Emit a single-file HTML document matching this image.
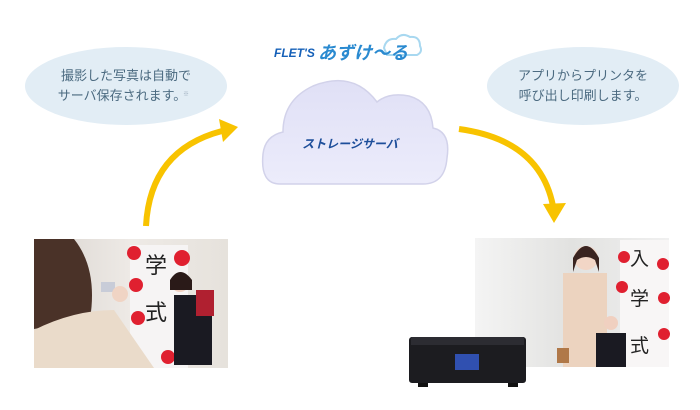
<!DOCTYPE html>
<html><head><meta charset="utf-8"><style>
html,body{margin:0;padding:0;background:#fff;width:700px;height:410px;overflow:hidden}
svg{display:block}
text{font-family:"Liberation Sans","Noto Sans CJK JP",sans-serif}
</style></head><body>
<svg width="700" height="410" viewBox="0 0 700 410" xmlns="http://www.w3.org/2000/svg">
<defs>
<linearGradient id="bgL" x1="0" y1="0" x2="1" y2="0"><stop offset="0" stop-color="#d9d4cf"/><stop offset="0.5" stop-color="#eeeae6"/><stop offset="1" stop-color="#e6e2dc"/></linearGradient>
<linearGradient id="bgR" x1="0" y1="0" x2="1" y2="0"><stop offset="0" stop-color="#f4f4f4"/><stop offset="0.5" stop-color="#e2e2e0"/><stop offset="1" stop-color="#f0f0f0"/></linearGradient>
<linearGradient id="cl" x1="0" y1="0" x2="0" y2="1"><stop offset="0" stop-color="#e0e0f6"/><stop offset="1" stop-color="#ececfb"/></linearGradient>
</defs>
<ellipse cx="126" cy="86" rx="101" ry="39" fill="#e2edf5"/>
<text x="126" y="80" font-size="13" fill="#4b6a80" text-anchor="middle">撮影した写真は自動で</text>
<text x="122" y="100" font-size="13" fill="#4b6a80" text-anchor="middle">サーバ保存されます。</text>
<text x="183" y="96" font-size="6" fill="#9ab">※</text>
<ellipse cx="583" cy="86" rx="96" ry="39" fill="#e2edf5"/>
<text x="583" y="80" font-size="13" fill="#4b6a80" text-anchor="middle">アプリからプリンタを</text>
<text x="583" y="100" font-size="13" fill="#4b6a80" text-anchor="middle">呼び出し印刷します。</text>
<path d="M384 48 q2-10 12-9 q6-7 14-2 q10-1 10 9 q3 6-3 9 l-30 0z" fill="none" stroke="#a8d8f0" stroke-width="2"/>
<text x="274" y="57" font-size="12" font-weight="bold" font-style="italic" fill="#1560b8">FLET'S</text>
<text x="318" y="59" font-size="18" font-weight="bold" font-style="italic" fill="#2a8ad0">あずけ〜る</text>
<path d="M280 184 q-20 0-17-30 q2-18 20-22 q0-32 30-46 q40-16 64 16 q12-10 32-6 q22 6 24 32 q18 4 14 30 q-2 26-24 26 z" fill="url(#cl)" stroke="#d2d2ea" stroke-width="1.5"/>
<text x="350" y="148" font-size="12" font-weight="bold" font-style="italic" fill="#1d4e9a" text-anchor="middle">ストレージサーバ</text>
<path d="M146 226 Q150 150 222 131" fill="none" stroke="#f8c300" stroke-width="6"/>
<polygon points="238,127 219,119 223,142" fill="#f8c300"/>
<path d="M459 129 Q540 140 553 206" fill="none" stroke="#f8c300" stroke-width="6"/>
<polygon points="554,223 543,204 566,203" fill="#f8c300"/>
<rect x="34" y="239" width="194" height="129" fill="url(#bgL)"/>
<rect x="130" y="245" width="58" height="123" fill="#f6f4f4"/>
<circle cx="134" cy="253" r="7" fill="#e02030"/><circle cx="136" cy="285" r="7" fill="#e02030"/><circle cx="138" cy="318" r="7" fill="#e02030"/><circle cx="182" cy="258" r="8" fill="#e02030"/><circle cx="168" cy="357" r="7" fill="#e02030"/>
<text x="145" y="273" font-size="22" font-family="Noto Serif CJK SC,serif" fill="#222">学</text>
<text x="145" y="320" font-size="22" font-family="Noto Serif CJK SC,serif" fill="#222">式</text>
<rect x="174" y="295" width="38" height="70" fill="#1a1a22"/>
<circle cx="180" cy="283" r="9" fill="#f0d0c0"/><path d="M170 280 q10-16 22 0 l0 10 l-22 0z" fill="#2a1a18"/>
<rect x="196" y="290" width="18" height="26" fill="#b02030"/>
<path d="M34 239 h40 q24 30 16 80 l-56 10z" fill="#4a3228"/>
<path d="M34 330 q40-20 80-20 l40 58 h-120z" fill="#eadbca"/>
<rect x="101" y="282" width="14" height="10" fill="#c8ccd8"/>
<circle cx="120" cy="294" r="8" fill="#f0d4c4"/>
<rect x="475" y="238" width="194" height="129" fill="url(#bgR)"/>
<rect x="620" y="240" width="49" height="127" fill="#f8f6f6"/>
<circle cx="624" cy="257" r="6" fill="#e02030"/><circle cx="663" cy="264" r="6" fill="#e02030"/><circle cx="622" cy="287" r="6" fill="#e02030"/><circle cx="664" cy="298" r="6" fill="#e02030"/><circle cx="664" cy="334" r="6" fill="#e02030"/>
<text x="630" y="265" font-size="19" font-family="Noto Serif CJK SC,serif" fill="#222">入</text>
<text x="630" y="305" font-size="19" font-family="Noto Serif CJK SC,serif" fill="#222">学</text>
<text x="630" y="352" font-size="19" font-family="Noto Serif CJK SC,serif" fill="#222">式</text>
<rect x="563" y="273" width="44" height="94" fill="#ecd3bf"/>
<circle cx="586" cy="258" r="12" fill="#f2d6c6"/><path d="M573 258 q13-24 26 0 l0 14 l-4-12 q-9-6-18 0 l-4 12z" fill="#3a2420"/>
<rect x="596" y="333" width="30" height="34" fill="#1a1a22"/><circle cx="611" cy="323" r="7" fill="#f0d0c0"/>
<rect x="557" y="348" width="12" height="15" fill="#b07848"/>
<rect x="409" y="337" width="117" height="46" rx="3" fill="#1c1c20"/>
<rect x="411" y="337" width="113" height="8" fill="#2c2c32"/>
<rect x="455" y="354" width="24" height="16" fill="#3050b0"/>
<rect x="418" y="383" width="10" height="4" fill="#111"/><rect x="508" y="383" width="10" height="4" fill="#111"/>
</svg>
</body></html>
